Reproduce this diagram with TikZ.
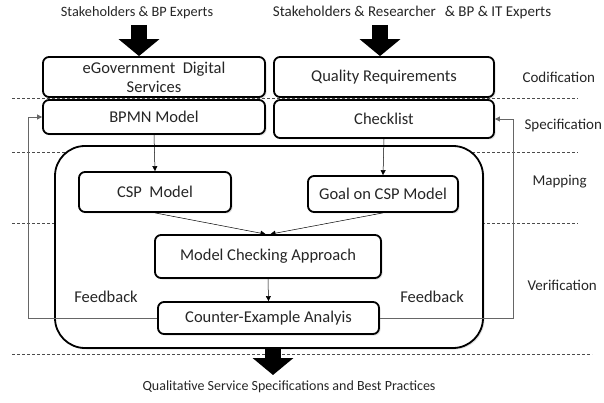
\documentclass[tikz,border=0pt]{standalone}
\usepackage{fontspec}
\setmainfont{Carlito}
\usetikzlibrary{arrows.meta,shadows}

\begin{document}
\begin{tikzpicture}[x=1pt,y=-1pt]
        \tikzset{box/.style={draw,line width=1.8pt,rounded corners=6pt,align=center,inner sep=0pt,
                fill=white,drop shadow={opacity=0.25,shadow xshift=1.5pt,shadow yshift=-1.5pt},
                text=black!85,font=\fontsize{16.5}{19}\selectfont},
            txt/.style={text=black!85,font=\fontsize{15}{18}\selectfont},
            stage/.style={txt,anchor=west},
            sep/.style={densely dashed,line width=0.5pt,draw=black!70},
            flow/.style={draw,line width=0.5pt,-{Triangle[length=5pt,width=5pt]}},
            fatarrow/.style={line width=16pt,-{Triangle[length=17pt,width=40pt]}},
            feedback/.style={draw=black!60,line width=0.7pt,-{Triangle[length=5pt,width=5pt]}}}
        \useasboundingbox (0,0) rectangle (604,403);
        % phase separators
        \foreach \y in {98,152,223} \draw[sep] (12,\y) -- (578,\y);
        \draw[sep] (12,354) -- (592,354);
        % inputs
        \node[txt,font=\fontsize{14.3}{17}\selectfont] (inL) at (137,13) {Stakeholders \& BP Experts};
        \node[txt] (inR) at (412,13) {Stakeholders \& Researcher\hspace{0.6em}\& BP \& IT Experts};
        \node[stage] (codif) at (519,77) {Codification};
        \node[stage] (spec) at (521,126) {Specification};
        \node[stage] (mapp) at (529,182) {Mapping};
        \node[stage] (verif) at (524,285) {Verification};
        % outer frame
        \node[draw,line width=1.8pt,rounded corners=30pt,minimum width=428pt,minimum height=202pt,
            drop shadow={opacity=0.25,shadow xshift=1.5pt,shadow yshift=-1.5pt},fill=white] (frame) at (269,247) {};
        \node[box,minimum width=222pt,minimum height=40pt] (egov) at (154,77) {eGovernment\ \ Digital\\Services};
        \node[box,minimum width=220pt,minimum height=40pt] (qual) at (384,77) {Quality Requirements};
        \node[box,minimum width=222pt,minimum height=34pt] (bpmn) at (154,117) {BPMN Model};
        \node[box,minimum width=220pt,minimum height=38pt] (check) at (384,119) {Checklist};
        \node[box,minimum width=152pt,minimum height=40pt] (csp) at (155,192) {CSP\ \ Model};
        \node[box,minimum width=150pt,minimum height=36pt] (goal) at (383,194) {Goal on CSP Model};
        \node[box,minimum width=226pt,minimum height=43pt] (mca) at (268,256.5) {Model Checking Approach};
        \node[box,minimum width=221pt,minimum height=32pt] (cea) at (268.5,318) {Counter-Example Analyis};
        \node[txt,font=\fontsize{16.5}{19}\selectfont] (fbL) at (106,297) {Feedback};
        \node[txt,font=\fontsize{16.5}{19}\selectfont] (fbR) at (432,297) {Feedback};
        \node[txt,font=\fontsize{14}{17}\selectfont] (out) at (289,387) {Qualitative Service Specifications and Best Practices};
        % connectors
        \draw[flow] (bpmn.south) -- (csp.north);
        \draw[flow] (check.south) -- (goal.north);
        \draw[flow] (csp.south) -- ([xshift=-2.5pt]mca.north);
        \draw[flow] (goal.south) -- ([xshift=2.5pt]mca.north);
        \draw[flow] (mca.south) -- (cea.north);
        \draw[feedback] (cea.west) -| (28,117) -- (bpmn.west);
        \draw[feedback] (cea.east) -| (513,119) -- (check.east);
        % big arrows
        \coordinate (tipL) at (139,25);
        \coordinate (tipR) at (380,25);
        \coordinate (tipB) at (273,375);
        \draw[fatarrow] (tipL) -- (tipL |- egov.north);
        \draw[fatarrow] (tipR) -- (tipR |- qual.north);
        \draw[fatarrow] (tipB |- frame.south) -- (tipB);
\end{tikzpicture}
\end{document}
